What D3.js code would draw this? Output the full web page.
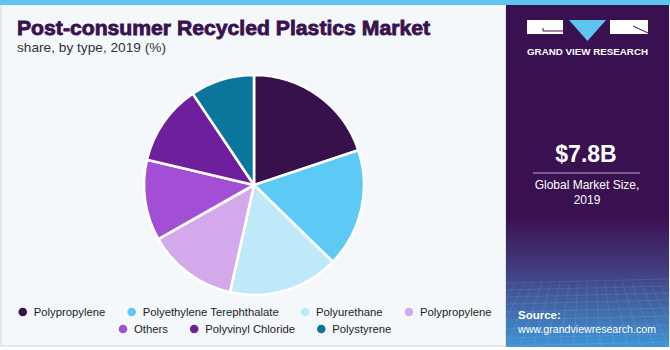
<!DOCTYPE html>
<html><head><meta charset="utf-8">
<script src="https://cdn.jsdelivr.net/npm/d3@7"></script>
<style>html,body{margin:0;padding:0;background:#fff;}svg{display:block;}</style>
</head><body>
<script>
const categories = ["Polypropylene","Polyethylene Terephthalate","Polyurethane","Polypropylene","Others","Polyvinyl Chloride","Polystyrene"];
const shares = [19.9, 17.4, 16.2, 13.3, 11.9, 11.9, 9.4];
const colors = ["#37114b","#5ccaf5","#bfe9f9","#d4a9ec","#a24fd6","#6e1f9b","#0b769b"];
const legendRows = [[0,1,2,3],[4,5,6]];

const W = 670, H = 350;
const svg = d3.select("body").append("svg").attr("width", W).attr("height", H);
const defs = svg.append("defs");

// backgrounds
svg.append("rect").attr("x",0).attr("y",0).attr("width",W).attr("height",H).attr("fill","#ffffff");
svg.append("rect").attr("x",1).attr("y",0).attr("width",505).attr("height",346).attr("fill","#f4f8fb")
  .attr("stroke","#cfd3d6").attr("stroke-width",1);
svg.append("rect").attr("x",0).attr("y",0).attr("width",W).attr("height",5).attr("fill","#5cc6ef");

// right panel
const grad = defs.append("linearGradient").attr("id","pg").attr("x1",0).attr("y1",0).attr("x2",0).attr("y2",1);
grad.append("stop").attr("offset","0%").attr("stop-color","#3a1150");
grad.append("stop").attr("offset","62%").attr("stop-color","#3a1150");
grad.append("stop").attr("offset","78%").attr("stop-color","#433f80");
grad.append("stop").attr("offset","100%").attr("stop-color","#3f95d6");
svg.append("rect").attr("x",506).attr("y",5).attr("width",163).attr("height",342).attr("fill","url(#pg)");

// perspective grid at the bottom of panel
const gridG = svg.append("g").attr("stroke","#ffffff").attr("stroke-opacity",0.13).attr("stroke-width",0.7);
[283,290,297,304,312,320,329,338,346].forEach(y=>{
  gridG.append("line").attr("x1",506).attr("x2",669).attr("y1",y).attr("y2",y-4);
});
d3.range(-12, 26).forEach(i=>{
  const x0 = 506 + i*9;
  gridG.append("line").attr("x1",x0).attr("y1",283).attr("x2",x0 + (x0-587)*0.5).attr("y2",347);
});
svg.append("rect").attr("x",669).attr("y",5).attr("width",1).attr("height",342).attr("fill","#e8eef3");

// logo
const logo = svg.append("g");
logo.append("rect").attr("x",527).attr("y",20).attr("width",36).attr("height",14).attr("fill","#ffffff");
logo.append("path").attr("d","M543,31 H563").attr("stroke","#3a1150").attr("stroke-width",1);
logo.append("path").attr("d","M543,28 V31").attr("stroke","#3a1150").attr("stroke-width",1);
logo.append("path").attr("d","M569,20 L606,20 L587.5,41 Z").attr("fill","#5cc6ef");
logo.append("rect").attr("x",610).attr("y",20).attr("width",38).attr("height",14).attr("fill","#ffffff");
logo.append("path").attr("d","M633,26 L648,33").attr("stroke","#3a1150").attr("stroke-width",1);
logo.append("text").attr("x",587.5).attr("y",55).attr("text-anchor","middle")
  .attr("font-family","Liberation Sans, Arial, sans-serif").attr("font-weight","bold").attr("font-size",9.5)
  .attr("fill","#ffffff").attr("textLength",121).attr("lengthAdjust","spacingAndGlyphs").text("GRAND VIEW RESEARCH");

// market size
svg.append("text").attr("x",586).attr("y",162).attr("text-anchor","middle")
  .attr("font-family","Liberation Sans, Arial, sans-serif").attr("font-weight","bold").attr("font-size",23)
  .attr("fill","#ffffff").text("$7.8B");
svg.append("line").attr("x1",533).attr("x2",640).attr("y1",173).attr("y2",173).attr("stroke","#b9a9c9").attr("stroke-width",1);
svg.append("text").attr("x",587).attr("y",189).attr("text-anchor","middle")
  .attr("font-family","Liberation Sans, Arial, sans-serif").attr("font-size",12)
  .attr("fill","#ffffff").text("Global Market Size,");
svg.append("text").attr("x",587).attr("y",204).attr("text-anchor","middle")
  .attr("font-family","Liberation Sans, Arial, sans-serif").attr("font-size",12)
  .attr("fill","#ffffff").text("2019");

// source
svg.append("text").attr("x",518).attr("y",319)
  .attr("font-family","Liberation Sans, Arial, sans-serif").attr("font-weight","bold").attr("font-size",11.5)
  .attr("fill","#ffffff").text("Source:");
svg.append("text").attr("x",518).attr("y",333)
  .attr("font-family","Liberation Sans, Arial, sans-serif").attr("font-size",11.5)
  .attr("fill","#ffffff").attr("textLength",138).attr("lengthAdjust","spacingAndGlyphs").text("www.grandviewresearch.com");

// title
svg.append("text").attr("x",17).attr("y",35)
  .attr("font-family","Liberation Sans, Arial, sans-serif").attr("font-weight","bold").attr("font-size",20)
  .attr("fill","#3a1150").attr("stroke","#3a1150").attr("stroke-width",0.8)
  .attr("textLength",413).attr("lengthAdjust","spacingAndGlyphs")
  .text("Post-consumer Recycled Plastics Market");
svg.append("text").attr("x",17).attr("y",52)
  .attr("font-family","Liberation Sans, Arial, sans-serif").attr("font-size",13)
  .attr("fill","#333333").attr("textLength",149).attr("lengthAdjust","spacingAndGlyphs")
  .text("share, by type, 2019 (%)");

// pie
const cx = 254, cy = 185, R = 110;
const pie = d3.pie().sort(null).value(d=>d)(shares);
const arc = d3.arc().innerRadius(0).outerRadius(R);
svg.append("g").attr("transform",`translate(${cx},${cy})`)
  .selectAll("path").data(pie).join("path")
  .attr("d",arc).attr("fill",(d,i)=>colors[i])
  .attr("stroke","#ffffff").attr("stroke-width",2.6).attr("stroke-linejoin","round");

// legend
const legY = [312, 329];
const gapAfterText = 22, dotToText = 11, dotR = 4.3;
const lg = svg.append("g").attr("font-family","Liberation Sans, Arial, sans-serif").attr("font-size",11.3).attr("fill","#222");
legendRows.forEach((row, ri)=>{
  const items = row.map(i=>{
    const t = lg.append("text").attr("y",legY[ri]+4).text(categories[i]);
    return {i, t, w: t.node().getComputedTextLength()};
  });
  const total = d3.sum(items, d=>dotR + dotToText + d.w) + gapAfterText*(items.length-1);
  let x = 255 - total/2 + dotR;
  items.forEach(d=>{
    lg.append("circle").attr("cx",x).attr("cy",legY[ri]).attr("r",dotR).attr("fill",colors[d.i]);
    d.t.attr("x", x + dotToText);
    x += dotToText + d.w + gapAfterText + dotR;
  });
});
</script>
</body></html>
